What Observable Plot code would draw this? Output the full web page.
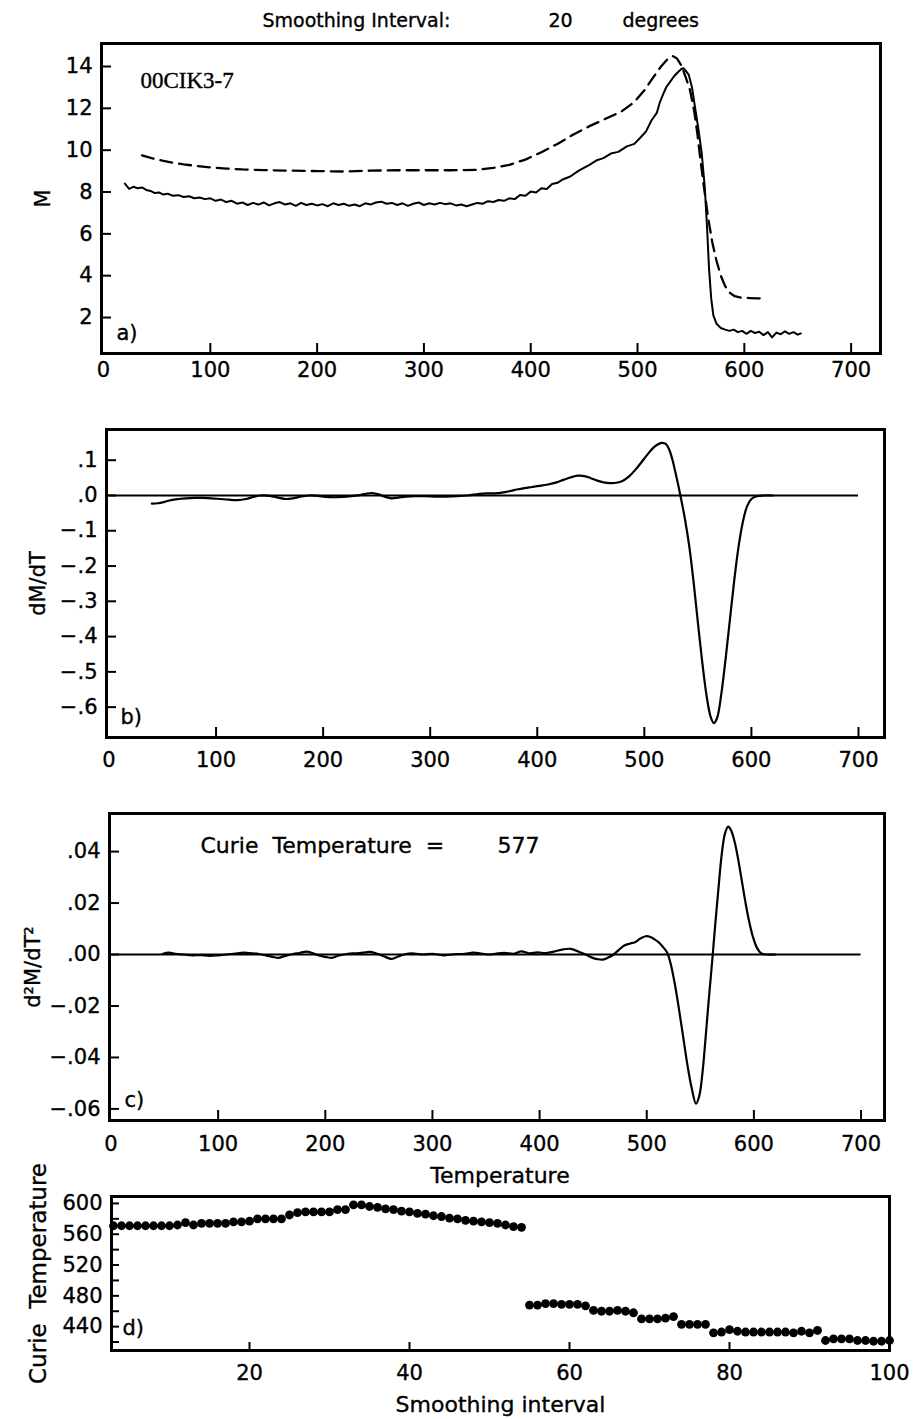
<!DOCTYPE html>
<html><head><meta charset="utf-8">
<script src="https://cdn.jsdelivr.net/npm/d3@7"></script>
<script src="https://cdn.jsdelivr.net/npm/@observablehq/plot@0.6"></script>
<style>
body{margin:0;background:#fff;}
#wrap{position:relative;width:915px;height:1419px;overflow:hidden;background:#fff;}
#wrap svg text{stroke:#000;stroke-width:0.35px;white-space:pre;}
</style></head><body><div id="wrap"></div>
<script>
// ---------- Panel a: M vs Temperature ----------
const aSolidT = [20,24,28,32,36,40,44,48,52,56,60,65,70,75,80,85,90,95,100,105,110,115,120,125,130,135,140,145,150,155,160,165,170,175,180,185,190,195,200,205,210,215,220,225,230,235,240,245,250,255,260,265,270,275,280,285,290,295,300,305,310,315,320,325,330,335,340,345,350,355,360,365,370,375,380,385,390,395,400,405,410,415,420,425,430,437,445,455,462,468,475,482,490,497,503,508,513,518,521,524,527,531,534,538,541,543,545,548,551,554,557,560,563,565,567,569,571,574,578,582,586,590,594,598,602,606,610,614,618,622,626,630,634,638,642,646,650,653];
const aSolidM = [8.40,8.15,8.25,8.18,8.22,8.10,8.05,7.95,7.98,7.88,7.92,7.82,7.85,7.76,7.80,7.70,7.74,7.66,7.70,7.58,7.64,7.52,7.58,7.44,7.50,7.38,7.48,7.40,7.50,7.36,7.46,7.52,7.40,7.46,7.34,7.48,7.38,7.44,7.36,7.42,7.32,7.46,7.38,7.44,7.34,7.40,7.32,7.46,7.40,7.50,7.54,7.44,7.48,7.38,7.46,7.34,7.44,7.50,7.38,7.46,7.40,7.48,7.42,7.46,7.36,7.40,7.32,7.40,7.48,7.44,7.56,7.52,7.62,7.58,7.70,7.66,7.86,7.82,8.02,7.98,8.18,8.14,8.38,8.44,8.60,8.74,9.02,9.30,9.52,9.62,9.84,9.92,10.18,10.30,10.62,10.90,11.42,11.78,12.30,12.68,13.02,13.30,13.52,13.74,13.88,13.92,13.80,13.60,13.00,12.00,11.00,9.90,8.20,6.40,4.30,2.90,2.10,1.70,1.50,1.42,1.36,1.42,1.30,1.36,1.22,1.36,1.26,1.32,1.16,1.30,1.05,1.28,1.20,1.34,1.22,1.30,1.18,1.24];
const aDashT = [36,45,55,65,75,85,100,115,130,150,175,200,225,250,275,300,325,350,365,380,395,410,425,440,455,470,485,497,507,515,522,528,533,537,541,545,549,553,556,559,562,566,570,574,578,582,586,591,597,605,612,618];
const aDashM = [9.75,9.62,9.50,9.40,9.32,9.26,9.18,9.12,9.08,9.05,9.02,9.00,8.98,9.02,9.04,9.04,9.04,9.06,9.15,9.30,9.55,9.90,10.30,10.75,11.15,11.50,11.85,12.30,12.90,13.50,14.00,14.35,14.50,14.38,14.05,13.50,12.90,11.90,10.80,9.50,8.30,6.80,5.60,4.70,4.00,3.50,3.20,3.02,2.95,2.93,2.92,2.92];
const aXTicks = [0,100,200,300,400,500,600,700];
const aYTicks = [2,4,6,8,10,12,14];

// ---------- Panel b: dM/dT ----------
const bT = [40,46,52,58,65,72,80,88,96,104,112,120,128,135,142,150,158,165,172,180,188,195,202,210,218,226,234,240,246,252,258,264,270,278,286,295,305,315,325,335,345,352,360,367,374,381,388,395,402,410,418,425,432,438,444,450,456,462,468,474,480,486,492,498,504,509,514,517,520,523,526,529,532,535,538,542,546,550,554,558,562,565,568,572,576,580,584,588,592,596,600,605,612,620];
const bDM = [-0.023,-0.022,-0.018,-0.013,-0.010,-0.008,-0.007,-0.007,-0.008,-0.010,-0.012,-0.013,-0.010,-0.004,0.000,-0.001,-0.006,-0.010,-0.008,-0.003,0.000,-0.001,-0.004,-0.005,-0.004,-0.002,0.001,0.005,0.007,0.003,-0.004,-0.008,-0.006,-0.003,-0.002,-0.002,-0.003,-0.003,-0.002,0.000,0.004,0.006,0.006,0.008,0.012,0.017,0.021,0.024,0.027,0.031,0.037,0.045,0.052,0.056,0.055,0.049,0.042,0.037,0.035,0.036,0.042,0.055,0.074,0.097,0.120,0.137,0.147,0.149,0.146,0.132,0.104,0.066,0.025,-0.020,-0.068,-0.145,-0.245,-0.360,-0.470,-0.565,-0.628,-0.645,-0.630,-0.560,-0.460,-0.350,-0.240,-0.145,-0.075,-0.030,-0.010,-0.002,0.000,0.000];
const bXTicks = [0,100,200,300,400,500,600,700];
const bYTicks = [0.1,0,-0.1,-0.2,-0.3,-0.4,-0.5,-0.6];

// ---------- Panel c: d2M/dT2 ----------
const cT = [48,54,60,68,76,84,92,100,108,116,124,131,138,145,151,156,162,170,176,182,188,194,200,206,212,220,228,235,242,249,255,262,268,275,283,291,300,310,320,330,338,344,352,360,368,376,383,390,398,406,414,422,429,436,443,449,454,459,464,469,474,479,484,489,494,499,503,507,511,515,519,522,526,530,534,538,542,546,549,552,555,558,561,564,567,570,573,576,579,583,587,591,595,599,603,607,612,620];
const cD2M = [0.0002,0.0007,0.0003,0.0,-0.0003,-0.0002,-0.0005,-0.0003,0.0,0.0004,0.0007,0.0005,0.0002,-0.0004,-0.0009,-0.0013,-0.0006,0.0002,0.0006,0.0011,0.0006,-0.0004,-0.0009,-0.0013,-0.0005,0.0002,0.0005,0.0007,0.0010,0.0002,-0.0008,-0.0017,-0.0008,0.0002,0.0004,0.0,0.0003,-0.0003,0.0001,0.0003,0.0007,0.0005,0.0,0.0004,0.0006,0.0003,0.0012,0.0005,0.0008,0.0006,0.0012,0.0020,0.0022,0.0012,0.0,-0.0012,-0.0018,-0.0020,-0.0012,0.0,0.0018,0.0035,0.0042,0.0048,0.0062,0.0071,0.0069,0.0060,0.0048,0.0030,0.0008,-0.003,-0.011,-0.021,-0.032,-0.043,-0.052,-0.058,-0.055,-0.046,-0.032,-0.017,-0.003,0.012,0.026,0.039,0.047,0.0497,0.048,0.042,0.033,0.023,0.014,0.007,0.0025,0.0004,0.0,0.0];
const cXTicks = [0,100,200,300,400,500,600,700];
const cYTicks = [0.04,0.02,0,-0.02,-0.04,-0.06];
const curieT = "577";

// ---------- Panel d: Curie temperature vs smoothing interval ----------
const dInterval = [3,4,5,6,7,8,9,10,11,12,13,14,15,16,17,18,19,20,21,22,23,24,25,26,27,28,29,30,31,32,33,34,35,36,37,38,39,40,41,42,43,44,45,46,47,48,49,50,51,52,53,54,55,56,57,58,59,60,61,62,63,64,65,66,67,68,69,70,71,72,73,74,75,76,77,78,79,80,81,82,83,84,85,86,87,88,89,90,91,92,93,94,95,96,97,98,99,100];
const dCurie = [571,571,571,571,571,571,571,571,572,575,572,574,574,574,574,576,576,577,580,580,580,580,585,588,589,589,589,589,592,592,598,598,596,595,593,592,590,589,587,586,584,583,581,580,578,577,576,575,574,572,570,569,
  468,468,470,470,469,469,469,467,461,460,460,461,460,458,450,450,450,451,453,443,443,443,443,432,433,436,434,433,433,433,433,433,433,432,434,432,435,422,424,424,424,422,422,421,421,422];
const dXTicks = [20,40,60,80,100];
const dYTicks = [440,480,520,560,600];
const dYMinor = [420,440,460,480,500,520,540,560,580,600];

const FONT = "DejaVu Sans";
const wrap = document.getElementById("wrap");

function label(txt, opts) {
  return Plot.text([txt], {text: d => d, textAnchor: "middle", lineAnchor: "middle", ...opts});
}

function makePanel(o) {
  const W = 915;
  const fw = W - o.ml - o.mr;
  const marks = [
    Plot.tickX(o.xTickMarks, {x: d => d, insetTop: o.fh - o.tl, strokeWidth: 2, stroke: "#000"}),
    Plot.tickY(o.yTickMarks, {y: d => d, insetRight: fw - o.tl, strokeWidth: 2, stroke: "#000"}),
    ...o.marks,
    Plot.frame({strokeWidth: 3, stroke: "#000"})
  ];
  const p = Plot.plot({
    width: W, height: o.mt + o.fh + o.mb,
    marginLeft: o.ml, marginRight: o.mr, marginTop: o.mt, marginBottom: o.mb,
    style: {fontFamily: FONT, fontSize: "21px", background: "transparent", color: "#000", overflow: "visible"},
    x: {domain: o.xd, ticks: o.xt, tickSize: 0, tickPadding: o.xpad, tickFormat: o.xf || (d => String(d)), label: null},
    y: {domain: o.yd, ticks: o.yt, tickSize: 0, tickPadding: 9, tickFormat: o.yf || (d => String(d)), label: null},
    marks
  });
  p.style.position = "absolute";
  p.style.top = o.top + "px";
  p.style.left = "0px";
  wrap.appendChild(p);
}

const minus = "\u2212";
const fmtB = d => (d < 0 ? minus : "") + Math.abs(d).toFixed(1).slice(1);
const fmtC = d => (d < 0 ? minus : "") + Math.abs(d).toFixed(2).slice(1);

// Panel a
makePanel({
  top: 0, mt: 43, fh: 310, mb: 40, ml: 101, mr: 35, tl: 10, xpad: 9,
  xd: [-1.9, 727.5], yd: [0.28, 15.1],
  xt: aXTicks, yt: aYTicks,
  xTickMarks: aXTicks.filter(d => d > 0), yTickMarks: aYTicks,
  marks: [
    Plot.line(aDashT.map((t, i) => ({t, m: aDashM[i]})), {x: "t", y: "m", stroke: "#000", strokeWidth: 2.3, strokeDasharray: "12,7"}),
    Plot.line(aSolidT.map((t, i) => ({t, m: aSolidM[i]})), {x: "t", y: "m", stroke: "#000", strokeWidth: 2}),
    label("Smoothing Interval:", {frameAnchor: "top-left", dx: 161, dy: -23, textAnchor: "start", fontSize: 19}),
    label("20", {frameAnchor: "top-left", dx: 447, dy: -23, textAnchor: "start", fontSize: 19}),
    label("degrees", {frameAnchor: "top-left", dx: 521, dy: -23, textAnchor: "start", fontSize: 19}),
    label("00CIK3-7", {frameAnchor: "top-left", dx: 39, dy: 37, textAnchor: "start", fontFamily: "Liberation Serif", fontSize: 23}),
    label("a)", {frameAnchor: "bottom-left", dx: 15, dy: -20, textAnchor: "start", fontSize: 21}),
    label("M", {frameAnchor: "left", dx: -58, rotate: -90, fontSize: 21})
  ]
});

// Panel b
makePanel({
  top: 393, mt: 36, fh: 308, mb: 40, ml: 106, mr: 31, tl: 10, xpad: 15,
  xd: [-2.3, 724.3], yd: [-0.686, 0.187],
  xt: bXTicks, yt: bYTicks, yf: fmtB,
  xTickMarks: bXTicks.filter(d => d > 0), yTickMarks: bYTicks,
  marks: [
    Plot.ruleY([0], {x1: -2.3, x2: 700, stroke: "#000", strokeWidth: 2}),
    Plot.line(bT.map((t, i) => ({t, v: bDM[i]})), {x: "t", y: "v", stroke: "#000", strokeWidth: 2.2, curve: "catmull-rom"}),
    label("b)", {frameAnchor: "bottom-left", dx: 14, dy: -20, textAnchor: "start", fontSize: 21}),
    label("dM/dT", {frameAnchor: "left", dx: -68, dy: 0, rotate: -90, fontSize: 21})
  ]
});

// Panel c
makePanel({
  top: 777, mt: 36, fh: 307, mb: 72, ml: 109, mr: 31, tl: 10, xpad: 16,
  xd: [-1.4, 721.9], yd: [-0.0645, 0.0548],
  xt: cXTicks, yt: cYTicks, yf: fmtC,
  xTickMarks: cXTicks.filter(d => d > 0), yTickMarks: cYTicks,
  marks: [
    Plot.ruleY([0], {x1: -1.4, x2: 700, stroke: "#000", strokeWidth: 2}),
    Plot.line(cT.map((t, i) => ({t, v: cD2M[i]})), {x: "t", y: "v", stroke: "#000", strokeWidth: 2.2, curve: "catmull-rom"}),
    label("Curie  Temperature  =", {frameAnchor: "top-left", dx: 91, dy: 32, textAnchor: "start", fontSize: 22}),
    label(curieT, {frameAnchor: "top-left", dx: 388, dy: 32, textAnchor: "start", fontSize: 22}),
    label("c)", {frameAnchor: "bottom-left", dx: 15, dy: -20, textAnchor: "start", fontSize: 21}),
    label("d\u00b2M/dT\u00b2", {frameAnchor: "left", dx: -76, rotate: -90, fontSize: 21}),
    label("Temperature", {frameAnchor: "bottom", dx: 3, dy: 55, fontSize: 22})
  ]
});

// Panel d
makePanel({
  top: 1140, mt: 56, fh: 154, mb: 69, ml: 111, mr: 26, tl: 8, xpad: 15,
  xd: [2.75, 100], yd: [409, 609],
  xt: dXTicks, yt: dYTicks,
  xTickMarks: dXTicks.filter(d => d < 100), yTickMarks: dYMinor,
  marks: [
    Plot.dot(dInterval.map((s, i) => ({s, c: dCurie[i]})), {x: "s", y: "c", r: 4.4, fill: "#000", stroke: "none"}),
    label("d)", {frameAnchor: "bottom-left", dx: 11, dy: -22, textAnchor: "start", fontSize: 21}),
    label("Curie  Temperature", {frameAnchor: "left", dx: -73, rotate: -90, fontSize: 23}),
    label("Smoothing interval", {frameAnchor: "bottom", dy: 54, fontSize: 22})
  ]
});
</script>
</body></html>
